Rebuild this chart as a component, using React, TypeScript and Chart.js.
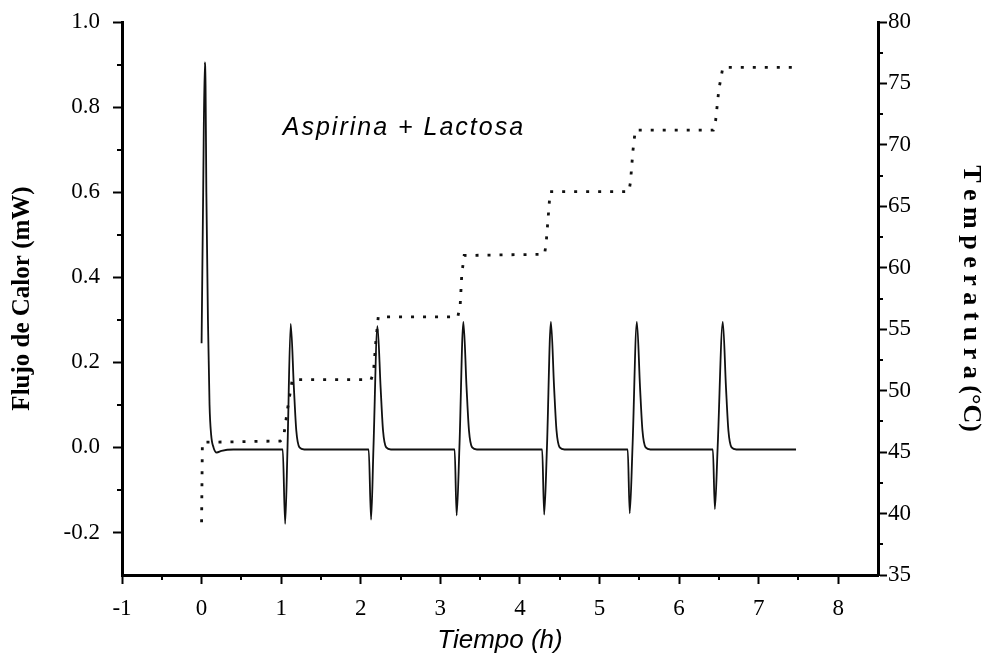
import React, { useEffect, useRef } from "react";
import { Chart, registerables } from "chart.js";

Chart.register(...registerables);

// Heat flow (mW) vs time (h)
const flowTime: number[] = [
  0.0, 0.02, 0.04, 0.05, 0.06, 0.08, 0.1, 0.12, 0.15, 0.19, 0.25, 0.4,
  1.02, 1.05, 1.08, 1.12, 1.16, 1.19, 1.23, 1.29,
  2.1, 2.13, 2.16, 2.21, 2.25, 2.28, 2.32, 2.38,
  3.18, 3.205, 3.24, 3.29, 3.33, 3.36, 3.4, 3.46,
  4.28, 4.305, 4.34, 4.39, 4.43, 4.46, 4.5, 4.56,
  5.355, 5.38, 5.415, 5.47, 5.51, 5.54, 5.58, 5.64,
  6.425, 6.45, 6.485, 6.55, 6.59, 6.62, 6.66, 6.72,
  7.47,
];
const flowValues: number[] = [
  0.245, 0.6, 0.905, 0.85, 0.6, 0.3, 0.1, 0.03, 0.0, -0.012, -0.008, -0.005,
  -0.005, -0.18, 0.0, 0.29, 0.14, 0.04, 0.0, -0.005,
  -0.005, -0.17, 0.0, 0.285, 0.14, 0.04, 0.0, -0.005,
  -0.005, -0.16, 0.0, 0.295, 0.14, 0.04, 0.0, -0.005,
  -0.005, -0.158, 0.0, 0.295, 0.14, 0.04, 0.0, -0.005,
  -0.005, -0.155, 0.0, 0.295, 0.14, 0.04, 0.0, -0.005,
  -0.005, -0.145, 0.0, 0.295, 0.14, 0.04, 0.0, -0.005,
  -0.005,
];

// Temperature (°C) vs time (h)
const tempTime: number[] = [
  0.0, 0.01, 0.99, 1.03, 1.08, 1.14,
  2.13, 2.16, 2.19, 2.22,
  3.22, 3.25, 3.27, 3.3,
  4.31, 4.33, 4.36, 4.38,
  5.37, 5.39, 5.42, 5.45,
  6.43, 6.46, 6.5, 6.55,
  7.48,
];
const tempValues: number[] = [
  39.3, 45.8, 45.9, 46.2, 48.5, 50.9,
  50.9, 51.5, 54.0, 56.0,
  56.0, 57.0, 59.5, 61.0,
  61.1, 62.0, 64.5, 66.2,
  66.2, 67.0, 69.5, 71.2,
  71.2, 72.0, 74.5, 76.3,
  76.3,
];

const xMinorTicks: number[] = [-0.5, 0.5, 1.5, 2.5, 3.5, 4.5, 5.5, 6.5, 7.5];
const yMinorTicks: number[] = [-0.1, 0.1, 0.3, 0.5, 0.7, 0.9];
const y2MinorTicks: number[] = [37.5, 42.5, 47.5, 52.5, 57.5, 62.5, 67.5, 72.5, 77.5];

const annotationText = "Aspirina + Lactosa";
const annotationX = 1.02;
const annotationY = 0.75;

const SERIF = "'Liberation Serif', 'Times New Roman', serif";
const SANS = "'Liberation Sans', Arial, sans-serif";

export default function App() {
  const ref = useRef<HTMLCanvasElement | null>(null);

  useEffect(() => {
    if (!ref.current) return;

    const minorPlugin = {
      id: "minorTicks",
      afterDraw(chart: any) {
        const { ctx } = chart;
        const xs = chart.scales.x;
        const ys = chart.scales.y;
        const y2s = chart.scales.y2;
        const area = chart.chartArea;
        ctx.save();
        ctx.strokeStyle = "#000";
        ctx.lineWidth = 2;
        const len = 5;
        ctx.beginPath();
        xMinorTicks.forEach((v) => {
          const px = Math.round(xs.getPixelForValue(v));
          ctx.moveTo(px, area.bottom);
          ctx.lineTo(px, area.bottom + len);
        });
        yMinorTicks.forEach((v) => {
          const py = Math.round(ys.getPixelForValue(v));
          ctx.moveTo(area.left, py);
          ctx.lineTo(area.left - len, py);
        });
        y2MinorTicks.forEach((v) => {
          const py = Math.round(y2s.getPixelForValue(v));
          ctx.moveTo(area.right, py);
          ctx.lineTo(area.right + len, py);
        });
        ctx.stroke();

        // annotation
        ctx.fillStyle = "#000";
        ctx.font = `italic 25px ${SANS}`;
        (ctx as any).letterSpacing = "2px";
        ctx.textAlign = "left";
        ctx.textBaseline = "middle";
        ctx.fillText(annotationText, xs.getPixelForValue(annotationX), ys.getPixelForValue(annotationY));
        ctx.restore();
      },
    };

    const fitVertical = (w: number) => (s: any) => {
      s.width = w;
      s.paddingTop = 0;
      s.paddingBottom = 0;
    };

    const chart = new Chart(ref.current, {
      type: "line",
      data: {
        datasets: [
          {
            label: "Flujo de Calor",
            data: flowTime.map((t, i) => ({ x: t, y: flowValues[i] })),
            borderColor: "#111",
            borderWidth: 1.8,
            pointRadius: 0,
            cubicInterpolationMode: "monotone",
            yAxisID: "y",
          },
          {
            label: "Temperatura",
            data: tempTime.map((t, i) => ({ x: t, y: tempValues[i] })),
            borderColor: "#111",
            borderWidth: 2.8,
            borderDash: [3, 9],
            pointRadius: 0,
            tension: 0,
            yAxisID: "y2",
          },
        ],
      },
      options: {
        animation: false,
        responsive: false,
        maintainAspectRatio: false,
        layout: { padding: { top: 22, left: 0, right: 0, bottom: 0 } },
        plugins: { legend: { display: false }, tooltip: { enabled: false } },
        scales: {
          x: {
            type: "linear",
            min: -1,
            max: 8.5,
            afterFit: (s: any) => { s.height = 88; s.paddingLeft = 0; s.paddingRight = 0; },
            border: { display: true, color: "#000", width: 3 },
            grid: { drawOnChartArea: false, drawTicks: true, tickLength: 9, tickWidth: 2, tickColor: "#000" },
            ticks: {
              stepSize: 1,
              includeBounds: false,
              color: "#000",
              padding: 11,
              maxRotation: 0,
              font: { family: SERIF, size: 23 },
              callback: (v: any) => String(v),
            },
            title: {
              display: true,
              text: "Tiempo (h)",
              color: "#000",
              font: { family: SANS, size: 26, style: "italic" },
              padding: { top: 0, bottom: 7 },
            },
          },
          y: {
            type: "linear",
            position: "left",
            min: -0.3,
            max: 1.0,
            afterFit: fitVertical(122),
            border: { display: true, color: "#000", width: 3 },
            grid: { drawOnChartArea: false, drawTicks: true, tickLength: 9, tickWidth: 2, tickColor: "#000" },
            ticks: {
              stepSize: 0.2,
              includeBounds: false,
              color: "#000",
              padding: 13,
              font: { family: SERIF, size: 23 },
              callback: (v: any) => Number(v).toFixed(1),
            },
            title: {
              display: true,
              text: "Flujo de Calor (mW)",
              color: "#000",
              font: { family: SERIF, size: 25, weight: "bold" },
              padding: { top: 8, bottom: 0 },
            },
          },
          y2: {
            type: "linear",
            position: "right",
            min: 35,
            max: 80,
            afterFit: fitVertical(111),
            border: { display: true, color: "#000", width: 3 },
            grid: { drawOnChartArea: false, drawTicks: true, tickLength: 9, tickWidth: 2, tickColor: "#000" },
            ticks: {
              stepSize: 5,
              includeBounds: false,
              color: "#000",
              padding: 1,
              font: { family: SERIF, size: 23 },
              callback: (v: any) => String(v),
            },
            title: {
              display: true,
              text: "T e m p e r a t u r a (°C)",
              color: "#000",
              font: { family: SERIF, size: 26, weight: "bold" },
              padding: { top: 3, bottom: 0 },
            },
          },
        },
      },
      plugins: [minorPlugin],
    } as any);

    return () => chart.destroy();
  }, []);

  return (
    <div style={{ position: "absolute", left: 0, top: 0, width: 989, height: 663, background: "#fff" }}>
      <canvas ref={ref} width={989} height={663} style={{ width: 989, height: 663, display: "block" }} />
    </div>
  );
}
